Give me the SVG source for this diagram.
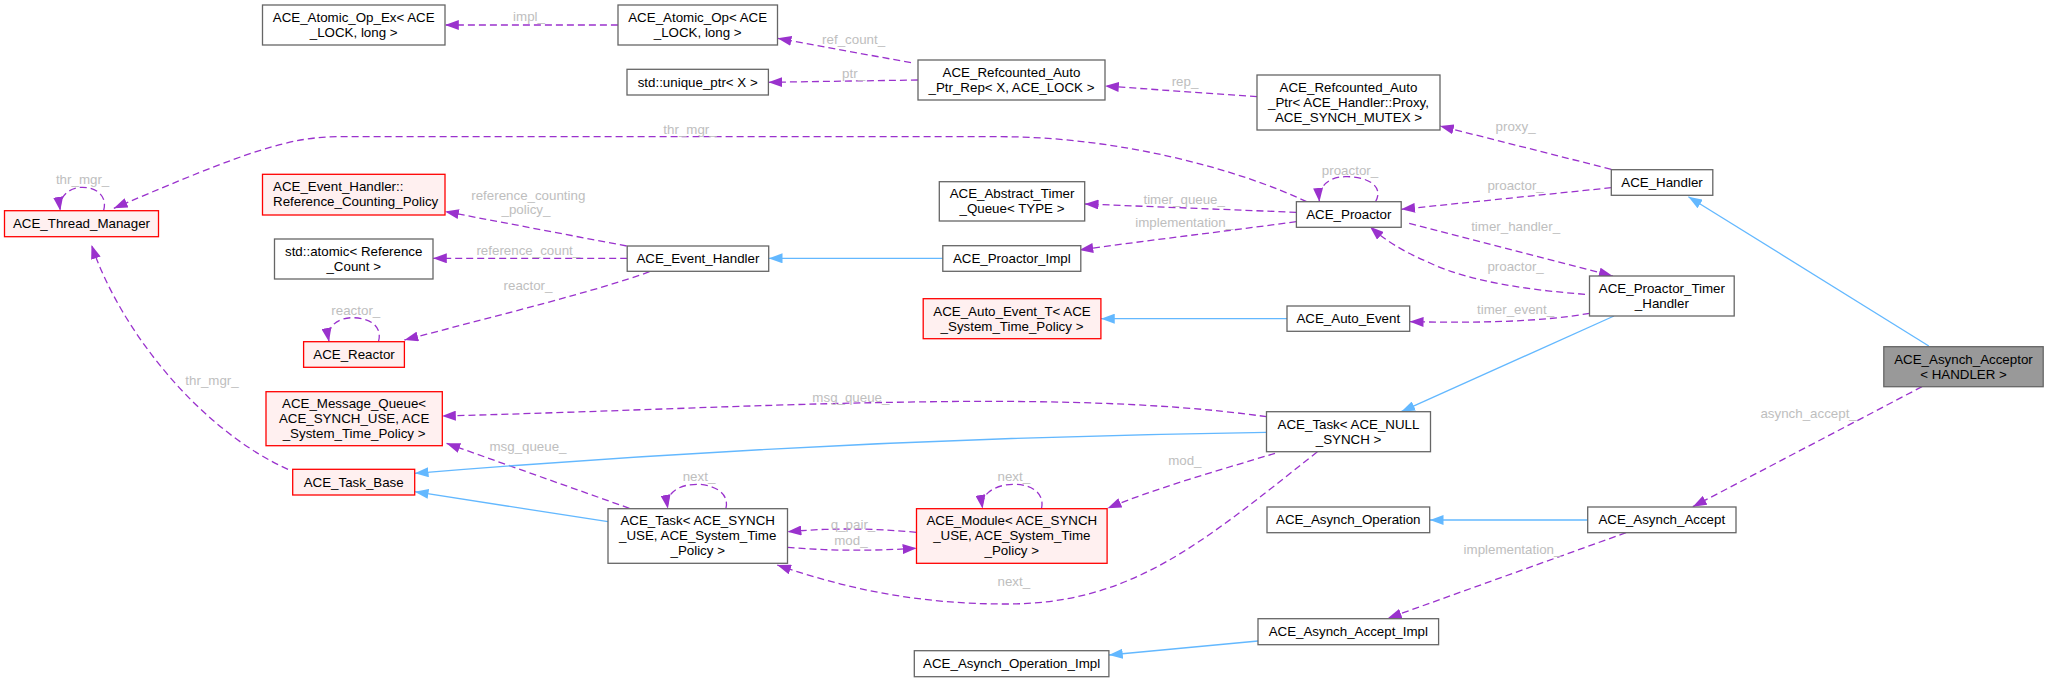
<svg xmlns="http://www.w3.org/2000/svg" width="2048" height="682" viewBox="0 0 2048 682">
<defs>
<style>
.n rect{fill:#ffffff;stroke:#666666;stroke-width:1.3}
.n.r rect{fill:#fff0f0;stroke:#ff0000}
.n.f rect{fill:#999999}
text{font-family:"Liberation Sans",Arial,Helvetica,sans-serif;font-size:13.33px}
.n text{text-anchor:middle;fill:#000000}
.n text.lft{text-anchor:start}
.u{fill:none;stroke:#9a32cd;stroke-width:1.3;stroke-dasharray:7,4;marker-end:url(#pa)}
.i{fill:none;stroke:#63b8ff;stroke-width:1.3;marker-end:url(#ba)}
.l{fill:#bebebe;text-anchor:middle}
</style>
<marker id="pa" markerUnits="userSpaceOnUse" markerWidth="14" markerHeight="10" refX="13" refY="4.7" orient="auto" viewBox="0 0 13 9.4"><path d="M0,0L13,4.7L0,9.4z" fill="#9a32cd"/></marker>
<marker id="ba" markerUnits="userSpaceOnUse" markerWidth="14" markerHeight="10" refX="13" refY="4.7" orient="auto" viewBox="0 0 13 9.4"><path d="M0,0L13,4.7L0,9.4z" fill="#63b8ff"/></marker>
</defs>
<rect width="2048" height="682" fill="#ffffff"/>

<g id="connectors">
<path class="u" d="M617.9,25 L445,25"/>
<path class="u" d="M911,62.7 L777.6,38.3"/>
<path class="u" d="M917.9,80 L768.4,82.3"/>
<path class="u" d="M1257,96.7 L1105,86"/>
<path class="u" d="M1611.3,169.3 L1440,126"/>
<path class="u" d="M1611.3,187.7 L1401.2,209.3"/>
<path class="u" d="M1409.2,223.3 L1612.7,276"/>
<path class="u" d="M1585,294.3 C1530,290 1470,282 1430,263 C1400,250 1385,240 1370,226.7"/>
<path class="u" d="M1589.5,313.3 C1540,322 1480,323 1409.7,321.7"/>
<path class="u" d="M1375.5,201.7 C1385,185 1365,176 1345,176.7 C1328,177 1318,187 1319.4,201.7"/>
<path class="u" d="M1306.6,201.7 C1240,170 1120,136.7 1000,136.7 L340,136.7 C290,136.7 250,150 113.8,208.3"/>
<path class="u" d="M103.6,210.7 C108,195 95,187.3 82.6,187.3 C70,187.3 58,196 60.3,210.7"/>
<path class="u" d="M1296.4,212.3 L1084.7,204"/>
<path class="u" d="M1296.4,221.7 C1220,232 1150,240 1079.4,250"/>
<path class="u" d="M626.7,246 L445,211.5"/>
<path class="u" d="M627.2,258.3 L433,258.3"/>
<path class="u" d="M649.5,271.7 C600,290 500,315 404.4,340"/>
<path class="u" d="M378.5,341.7 C383,325 368,317.7 352.7,317.7 C338,317.7 326,326 329,341.7"/>
<path class="u" d="M288,469.3 C200,430 120,330 91.5,245"/>
<path class="u" d="M1266.5,416.7 C1150,400 1000,400 873,402.7 C750,405 600,412 442,416"/>
<path class="u" d="M629.4,508.3 L446.4,443.3"/>
<path class="u" d="M725.9,508.7 C730,492 712,484.3 696.9,484.3 C680,484.3 665,492 667.9,508.7"/>
<path class="u" d="M787.5,547.3 C830,551 870,551 916.5,548.3"/>
<path class="u" d="M916.5,532.3 C870,528 830,528 787.5,531.7"/>
<path class="u" d="M1041.5,508.7 C1045,492 1030,484.3 1013.8,484.3 C998,484.3 980,492 982.6,508.7"/>
<path class="u" d="M1275,453.3 C1220,470 1150,490 1107.6,508.3"/>
<path class="u" d="M1317.4,451.7 C1200,545 1130,604 1007,604 C920,604 850,590 777.2,565"/>
<path class="u" d="M1922,386.7 L1692.8,506.7"/>
<path class="u" d="M1626,532.7 L1387.8,618.3"/>

<path class="i" d="M1928.8,346 L1688.4,196.7"/>
<path class="i" d="M1614,316 L1401.2,411.7"/>
<path class="i" d="M942.8,258.3 L768.7,258.3"/>
<path class="i" d="M1287,318.7 L1100.9,318.7"/>
<path class="i" d="M1266.5,432.3 C1000,436 700,450 414.7,473.3"/>
<path class="i" d="M608,521.7 L414.7,491.7"/>
<path class="i" d="M1587.7,520 L1429.7,520"/>
<path class="i" d="M1258,641 L1108.9,655"/>

<text class="l" x="529" y="21.2">impl_</text>
<text class="l" x="853.6" y="43.5">ref_count_</text>
<text class="l" x="853.6" y="77.8">ptr_</text>
<text class="l" x="1185" y="86.2">rep_</text>
<text class="l" x="1515.6" y="130.5">proxy_</text>
<text class="l" x="1515.6" y="189.5">proactor_</text>
<text class="l" x="1515.6" y="231.2">timer_handler_</text>
<text class="l" x="1515.6" y="271.2">proactor_</text>
<text class="l" x="1515.6" y="313.5">timer_event_</text>
<text class="l" x="1350" y="175">proactor_</text>
<text class="l" x="690" y="133.8">thr_mgr_</text>
<text class="l" x="82.6" y="183.8">thr_mgr_</text>
<text class="l" x="1184.2" y="203.8">timer_queue_</text>
<text class="l" x="1184.2" y="226.8">implementation_</text>
<text class="l" x="528.3" y="199.5">reference_counting</text>
<text class="l" x="526" y="213.8">_policy_</text>
<text class="l" x="528.3" y="255.2">reference_count_</text>
<text class="l" x="528" y="289.5">reactor_</text>
<text class="l" x="355.8" y="314.5">reactor_</text>
<text class="l" x="212" y="385.2">thr_mgr_</text>
<text class="l" x="850.9" y="401.8">msg_queue_</text>
<text class="l" x="528" y="451.2">msg_queue_</text>
<text class="l" x="699" y="481.2">next_</text>
<text class="l" x="850.9" y="545.3">mod_</text>
<text class="l" x="853" y="528.5">q_pair_</text>
<text class="l" x="1013.8" y="481.2">next_</text>
<text class="l" x="1184.8" y="465.2">mod_</text>
<text class="l" x="1013.8" y="586.2">next_</text>
<text class="l" x="1808.6" y="417.8">asynch_accept_</text>
<text class="l" x="1512.5" y="553.5">implementation_</text>
</g>

<g id="n_atomic_op_ex" class="n"><rect x="262.5" y="5" width="182.5" height="40"/><text x="353.7" y="21.8">ACE_Atomic_Op_Ex&lt; ACE</text><text x="353.7" y="36.8">_LOCK, long &gt;</text></g>
<g id="n_atomic_op" class="n"><rect x="618" y="5" width="159.5" height="40"/><text x="697.7" y="21.8">ACE_Atomic_Op&lt; ACE</text><text x="697.7" y="36.8">_LOCK, long &gt;</text></g>
<g id="n_unique_ptr" class="n"><rect x="627" y="69.3" width="141.4" height="25.7"/><text x="697.7" y="86.6">std::unique_ptr&lt; X &gt;</text></g>
<g id="n_refcounted_rep" class="n"><rect x="918" y="60" width="187" height="40"/><text x="1011.5" y="76.8">ACE_Refcounted_Auto</text><text x="1011.5" y="91.8">_Ptr_Rep&lt; X, ACE_LOCK &gt;</text></g>
<g id="n_refcounted_ptr" class="n"><rect x="1257" y="75" width="183" height="55"/><text x="1348.5" y="91.8">ACE_Refcounted_Auto</text><text x="1348.5" y="106.8">_Ptr&lt; ACE_Handler::Proxy,</text><text x="1348.5" y="121.8">ACE_SYNCH_MUTEX &gt;</text></g>
<g id="n_handler" class="n"><rect x="1611.3" y="169.7" width="101.5" height="25.6"/><text x="1662" y="187">ACE_Handler</text></g>
<g id="n_proactor" class="n"><rect x="1296.4" y="201.7" width="104.8" height="25.6"/><text x="1348.8" y="219">ACE_Proactor</text></g>
<g id="n_abstract_timer_queue" class="n"><rect x="939.3" y="181.7" width="145.4" height="39.3"/><text x="1012" y="198.2">ACE_Abstract_Timer</text><text x="1012" y="213.2">_Queue&lt; TYPE &gt;</text></g>
<g id="n_proactor_timer_handler" class="n"><rect x="1589.5" y="276" width="144.7" height="40"/><text x="1661.9" y="292.8">ACE_Proactor_Timer</text><text x="1661.9" y="307.8">_Handler</text></g>
<g id="n_auto_event" class="n"><rect x="1287" y="306" width="122.7" height="25.3"/><text x="1348.3" y="323.1">ACE_Auto_Event</text></g>
<g id="n_auto_event_t" class="n r"><rect x="923.2" y="298.7" width="177.7" height="40"/><text x="1012" y="315.5">ACE_Auto_Event_T&lt; ACE</text><text x="1012" y="330.5">_System_Time_Policy &gt;</text></g>
<g id="n_proactor_impl" class="n"><rect x="942.8" y="245.7" width="138" height="25.6"/><text x="1011.8" y="263">ACE_Proactor_Impl</text></g>
<g id="n_event_handler" class="n"><rect x="627.2" y="246" width="141.5" height="25.3"/><text x="697.9" y="263.1">ACE_Event_Handler</text></g>
<g id="n_std_atomic" class="n"><rect x="274.5" y="239" width="158.5" height="40"/><text x="353.7" y="255.8">std::atomic&lt; Reference</text><text x="353.7" y="270.8">_Count &gt;</text></g>
<g id="n_ref_counting_policy" class="n r"><rect x="262.5" y="174.3" width="182.5" height="40.7"/><text class="lft" x="273" y="191.4">ACE_Event_Handler::</text><text class="lft" x="273" y="206.4">Reference_Counting_Policy</text></g>
<g id="n_thread_manager" class="n r"><rect x="4.5" y="210.7" width="154" height="26"/><text x="81.5" y="228.2">ACE_Thread_Manager</text></g>
<g id="n_reactor" class="n r"><rect x="303.6" y="341.7" width="100.8" height="25.6"/><text x="354" y="359">ACE_Reactor</text></g>
<g id="n_message_queue" class="n r"><rect x="266" y="391.7" width="176.3" height="54"/><text x="354.1" y="408">ACE_Message_Queue&lt;</text><text x="354.1" y="423">ACE_SYNCH_USE, ACE</text><text x="354.1" y="438">_System_Time_Policy &gt;</text></g>
<g id="n_task_base" class="n r"><rect x="292.7" y="469.3" width="122" height="25.7"/><text x="353.7" y="486.6">ACE_Task_Base</text></g>
<g id="n_task_synch_use" class="n"><rect x="608" y="508.7" width="179.5" height="54.6"/><text x="697.7" y="525.3">ACE_Task&lt; ACE_SYNCH</text><text x="697.7" y="540.3">_USE, ACE_System_Time</text><text x="697.7" y="555.3">_Policy &gt;</text></g>
<g id="n_module" class="n r"><rect x="916.5" y="508.7" width="190.6" height="54.6"/><text x="1011.8" y="525.3">ACE_Module&lt; ACE_SYNCH</text><text x="1011.8" y="540.3">_USE, ACE_System_Time</text><text x="1011.8" y="555.3">_Policy &gt;</text></g>
<g id="n_task_null_synch" class="n"><rect x="1266.5" y="411.7" width="164" height="40"/><text x="1348.5" y="428.5">ACE_Task&lt; ACE_NULL</text><text x="1348.5" y="443.5">_SYNCH &gt;</text></g>
<g id="n_asynch_operation" class="n"><rect x="1267" y="507" width="162.7" height="25.7"/><text x="1348.3" y="524.3">ACE_Asynch_Operation</text></g>
<g id="n_asynch_accept" class="n"><rect x="1587.7" y="507" width="148.3" height="25.7"/><text x="1661.8" y="524.3">ACE_Asynch_Accept</text></g>
<g id="n_asynch_accept_impl" class="n"><rect x="1258" y="618.7" width="180.6" height="26"/><text x="1348.3" y="636.2">ACE_Asynch_Accept_Impl</text></g>
<g id="n_asynch_operation_impl" class="n"><rect x="914.3" y="650.7" width="194.6" height="26"/><text x="1011.6" y="668.2">ACE_Asynch_Operation_Impl</text></g>
<g id="n_asynch_acceptor" class="n f"><rect x="1883.8" y="346.7" width="159.4" height="40"/><text x="1963.5" y="363.5">ACE_Asynch_Acceptor</text><text x="1963.5" y="378.5">&lt; HANDLER &gt;</text></g>
</svg>
